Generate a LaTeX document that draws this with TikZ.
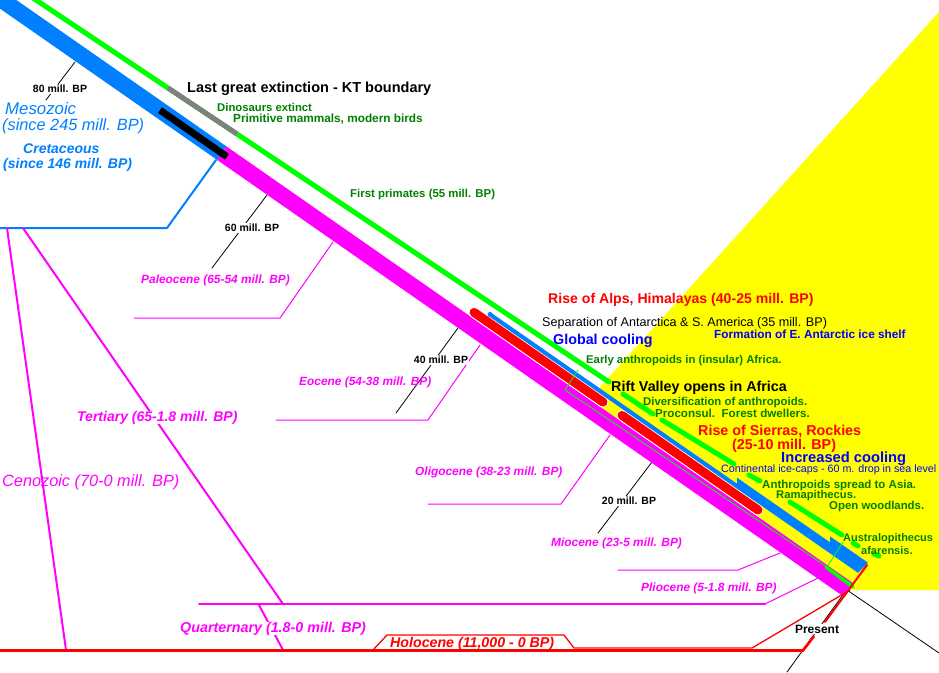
\documentclass[tikz,border=0pt]{standalone}
\usepackage{fontspec}
\setmainfont{Liberation Sans}
\definecolor{bandblue}{RGB}{0,128,255}
\definecolor{brightgreen}{RGB}{0,255,0}
\definecolor{textgreen}{RGB}{0,128,0}
\definecolor{epochmag}{RGB}{255,0,255}
\definecolor{pureyellow}{RGB}{255,255,0}
\definecolor{purered}{RGB}{255,0,0}
\definecolor{pureblue}{RGB}{0,0,255}
\newcommand{\fsz}[1]{\fontsize{#1}{#1}\selectfont}

\begin{document}
\begin{tikzpicture}[line cap=round,line join=round,x=1pt,y=-1pt,
    txt/.style={anchor=base west,inner sep=0pt},
    boldtxt/.style={txt,font=\bfseries\fsz{#1}},
    rtxt/.style={txt,font=\fsz{#1}},
    itxt/.style={txt,font=\itshape\fsz{#1}},
    bitxt/.style={txt,font=\bfseries\itshape\fsz{#1}},
    ticklbl/.style={fill=white,inner sep=1pt,font=\bfseries\fsz{10.5}},
    band/.style={line cap=butt}]
\useasboundingbox (0,0) rectangle (939,672);
\fill [white] (0,0) rectangle (939,672);
\clip (0,0) rectangle (939,672);
\fill [pureyellow] (585,403.5) -- (939,12) -- (939,590) -- (853,590) -- cycle;
\draw [line width=2pt,color=bandblue] (0,228) -- (167,228) -- (216,160);
\draw [line width=2pt,color=epochmag] (7,228) -- (66,650);
\draw [line width=2pt,color=epochmag] (23,228) -- (283,604);
\draw [line width=2pt,color=epochmag] (199,604) -- (765,604);
\draw [line width=2pt,color=epochmag] (259,605) -- (283,650);
\draw [line width=1pt,color=epochmag] (765,604) -- (818,578);
\draw [line width=1pt,color=epochmag] (333,242) -- (280,318) -- (134,318);
\draw [line width=1pt,color=epochmag] (480,345) -- (428,420) -- (276,420);
\draw [line width=1pt,color=epochmag] (610,435) -- (561,504) -- (428,504);
\draw [line width=1pt,color=epochmag] (780,553) -- (738,570) -- (618,570);
\draw [line width=0.8pt] (75,62) -- (46,100);
\draw [line width=0.8pt] (267,195) -- (212,268);
\draw [line width=0.8pt] (458,328) -- (396,413);
\draw [line width=0.8pt] (652,462) -- (598,533);
\draw [line width=0.8pt] (787,672) -- (845,592);
\draw [line width=0.8pt] (847,590) -- (939,653);
\draw [band,line width=16.4pt,color=bandblue] (-20,-15.3) -- (222,153.3);
\draw [band,line width=16.4pt,color=epochmag] (222,153.3) -- (848,589.6);
\draw [band,line width=7pt] (160,110.1) -- (227,156.8);
\draw [line width=5pt,color=brightgreen] (30,-4) -- (609,382);
\draw [band,line width=5pt,color=gray] (168,88) -- (237,134);
\draw [line width=11pt,color=white] (474,312.4) -- (603,402.1);
\draw [line width=11pt,color=white] (622,415.4) -- (758,510);
\draw [line width=9pt,color=purered] (474,312.4) -- (603,402.1);
\draw [line width=9pt,color=purered] (622,415.4) -- (758,510);
\fill [bandblue] (490,312) -- (737,483.7) -- (737,477.7) -- (830,542.3) -- (830,536.3) -- (868,562.7) -- (858,572.8) -- (490,317) -- cycle;
\fill [bandblue] (490,314.5) circle (2.5);
\draw [line width=0.8pt,color=brightgreen] (578,370) -- (565,390) -- (827,567) -- (843,542);
\draw [line width=3.5pt,color=brightgreen] (826,567) -- (853,587);
\draw [line width=5pt,color=brightgreen] (623,394) -- (653,414);
\draw [line width=5pt,color=brightgreen] (662,420) -- (734,464);
\draw [line width=5pt,color=brightgreen] (749,475) -- (760,481);
\draw [line width=5pt,color=brightgreen] (790,502) -- (842,535);
\draw [line width=5pt,color=brightgreen] (853,543) -- (858,546);
\draw [line width=5pt,color=brightgreen] (874,554) -- (879,556);
\draw [band,line width=2.7pt,color=purered] (0,650.5) -- (803,650.5) -- (814,636);
\draw [line width=1.3pt,color=purered] (373,650) -- (387,635) -- (564,635) -- (574,648) -- (752,648) -- (850,590);
\draw [line width=2pt,color=purered] (825,622) -- (867,565);
\node [ticklbl] (lbl80) at (60,89) {80 mill. BP};
\node [ticklbl] (lbl60) at (252,228) {60 mill. BP};
\node [ticklbl] (lbl40) at (441,360) {40 mill. BP};
\node [ticklbl] (lbl20) at (629,501) {20 mill. BP};
\node [ticklbl,font=\bfseries\fsz{12}] (present) at (817,629) {Present};
\node [boldtxt=14.5] (ktb) at (187,92) {Last great extinction - KT boundary};
\node [boldtxt=11.3,color=textgreen] (dino) at (217,111) {Dinosaurs extinct};
\node [boldtxt=11.8,color=textgreen] (mammals) at (233,122.2) {Primitive mammals, modern birds};
\node [boldtxt=11.4,color=textgreen] (primates) at (350,197) {First primates (55 mill. BP)};
\node [boldtxt=14.1,color=purered] (alps) at (548,303) {Rise of Alps, Himalayas (40-25 mill. BP)};
\node [rtxt=12.6] (separation) at (542,326.5) {Separation of Antarctica \& S. America (35 mill. BP)};
\node [boldtxt=14.3,color=pureblue] (globalcool) at (553,344.2) {Global cooling};
\node [boldtxt=11.8,color=pureblue] (iceshelf) at (714,338.2) {Formation of E. Antarctic ice shelf};
\node [boldtxt=11.3,color=textgreen] (earlyanthro) at (586,363) {Early anthropoids in (insular) Africa.};
\node [boldtxt=14.3] (rift) at (611,391) {Rift Valley opens in Africa};
\node [boldtxt=11.35,color=textgreen] (divers) at (643,405) {Diversification of anthropoids.};
\node [boldtxt=11.6,color=textgreen] (proconsul) at (655,417) {Proconsul.\ \ Forest dwellers.};
\node [boldtxt=14.3,color=purered] (sierras) at (698,435) {Rise of Sierras, Rockies};
\node [boldtxt=14.3,color=purered] (sierrasdate) at (732,449) {(25-10 mill. BP)};
\node [boldtxt=14.7,color=pureblue] (inccool) at (781,462.2) {Increased cooling};
\node [rtxt=10.7,color=pureblue] (icecaps) at (721,472.8) {Continental ice-caps - 60 m. drop in sea level};
\node [boldtxt=11.5,color=textgreen] (spread) at (762,488) {Anthropoids spread to Asia.};
\node [boldtxt=11.25,color=textgreen] (rama) at (776,498.3) {Ramapithecus.};
\node [boldtxt=11.4,color=textgreen] (woodlands) at (829,509) {Open woodlands.};
\node [boldtxt=11,color=textgreen] (austr) at (843,541.5) {Australopithecus};
\node [boldtxt=11,color=textgreen] (afar) at (861,554) {afarensis.};
\node [itxt=16.8,color=bandblue] (meso) at (5,114) {Mesozoic};
\node [itxt=16.3,color=bandblue] (mesodate) at (2,130) {(since 245 mill. BP)};
\node [bitxt=14,color=bandblue] (creta) at (23,153) {Cretaceous};
\node [bitxt=14,color=bandblue] (cretadate) at (3,168) {(since 146 mill. BP)};
\node [itxt=16.3,color=epochmag] (ceno) at (2,486) {Cenozoic (70-0 mill. BP)};
\node [bitxt=14,color=epochmag,fill=white] (tert) at (77,421) {Tertiary (65-1.8 mill. BP)};
\node [bitxt=11.9,color=epochmag] (paleo) at (141,283.2) {Paleocene (65-54 mill. BP)};
\node [bitxt=11.9,color=epochmag] (eoc) at (299,385.2) {Eocene (54-38 mill. BP)};
\node [bitxt=11.9,color=epochmag] (oligo) at (415,475.2) {Oligocene (38-23 mill. BP)};
\node [bitxt=11.9,color=epochmag] (mio) at (551,546.2) {Miocene (23-5 mill. BP)};
\node [bitxt=11.9,color=epochmag] (plio) at (641,591.2) {Pliocene (5-1.8 mill. BP)};
\node [bitxt=14.3,color=epochmag,fill=white] (quart) at (180,632) {Quarternary (1.8-0 mill. BP)};
\node [bitxt=14.2,color=purered] (holo) at (390,647) {Holocene (11,000 - 0 BP)};
\end{tikzpicture}
\end{document}
